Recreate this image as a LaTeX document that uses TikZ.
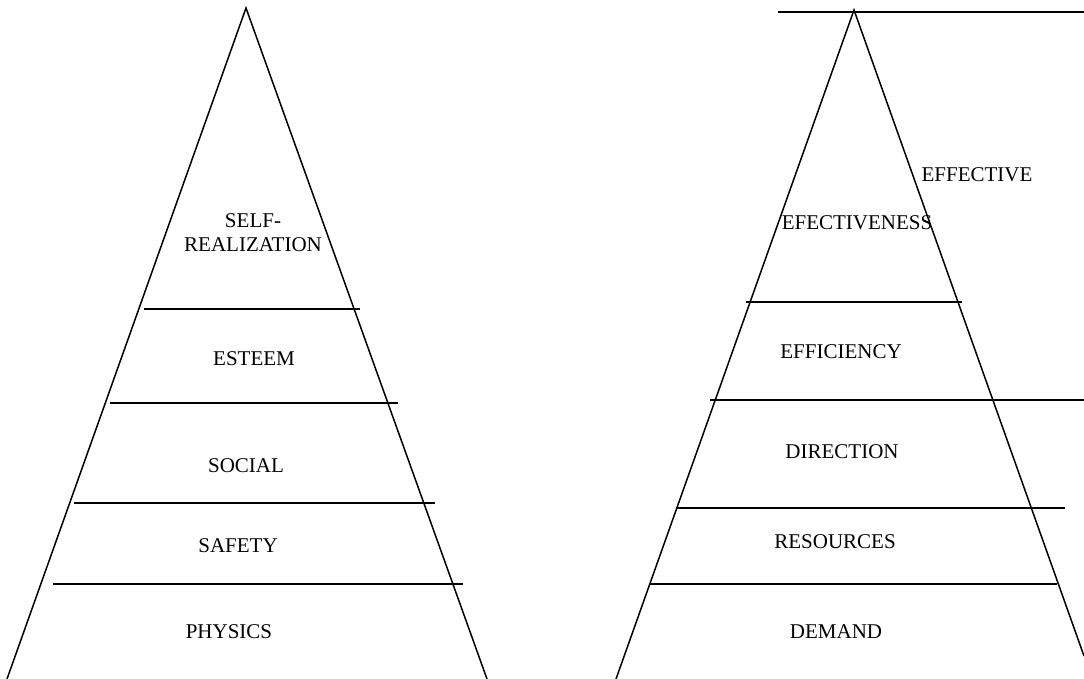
\documentclass[tikz,border=0pt]{standalone}
\usepackage{fontspec}
\setmainfont{Liberation Serif}
\usetikzlibrary{calc}
\tikzstyle{level}=[font=\fontsize{21}{24}\selectfont, inner sep=0pt, align=center]
\tikzstyle{side} = [draw,line width=1.5pt]
\tikzstyle{bar} = [draw,line width=1.6pt]

\begin{document}
\begin{tikzpicture}[x=1pt, y=-1pt]
    \useasboundingbox (0,0) rectangle (1084,679);

    % Left pyramid
    % First the outline
    \coordinate (LT) at (246,8);
    \coordinate (LL) at (7,679);
    \coordinate (LR) at (487,679);
    \path[side] (LL) -- (LT) -- (LR);

    % Then the levels
    \foreach \y/\xa/\xb/\name in {309/144/360/a, 403/110/398/b, 503/74/435/c, 584/53/463/d} {
        \coordinate (L\name1) at (\xa,\y);
        \coordinate (L\name2) at (\xb,\y);
        \path[bar] (L\name1) -- (L\name2);
    }

    \foreach \pos/\name/\text in {{(253,233)/selfreal/SELF-\\REALIZATION}, {(254,359)/esteem/ESTEEM},
        {(246,466)/social/SOCIAL}, {(238,546)/safety/SAFETY}, {(229,632)/physics/PHYSICS}}
        \node[level] (\name) at \pos {\text};

    % Right pyramid
    % First the outline
    \coordinate (RT) at (854,10);
    \coordinate (RL) at (616,679);
    \coordinate (RR) at (1084,656);
    \path[side] (RL) -- (RT) -- (RR);

    % Then the levels
    \foreach \y/\xa/\xb/\name in {12/778/1084/a, 302/746/962/b, 400/710/1084/c, 508/676/1065/d, 584/650/1057/e} {
        \coordinate (R\name1) at (\xa,\y);
        \coordinate (R\name2) at (\xb,\y);
        \path[bar] (R\name1) -- (R\name2);
    }
    \coordinate (Rc3) at (892,400);
    \coordinate (Rc4) at (998,400);
    \path[bar, line width=2.6pt] (Rc3) -- (Rc4);

    \foreach \pos/\name/\text in {{(977,175)/effective/EFFECTIVE}, {(857,223)/effectiveness/EFECTIVENESS},
        {(841,352)/efficiency/EFFICIENCY}, {(842,452)/direction/DIRECTION},
        {(835,542)/resources/RESOURCES}, {(836,632)/demand/DEMAND}}
        \node[level] (\name) at \pos {\text};

\end{tikzpicture}
\end{document}
